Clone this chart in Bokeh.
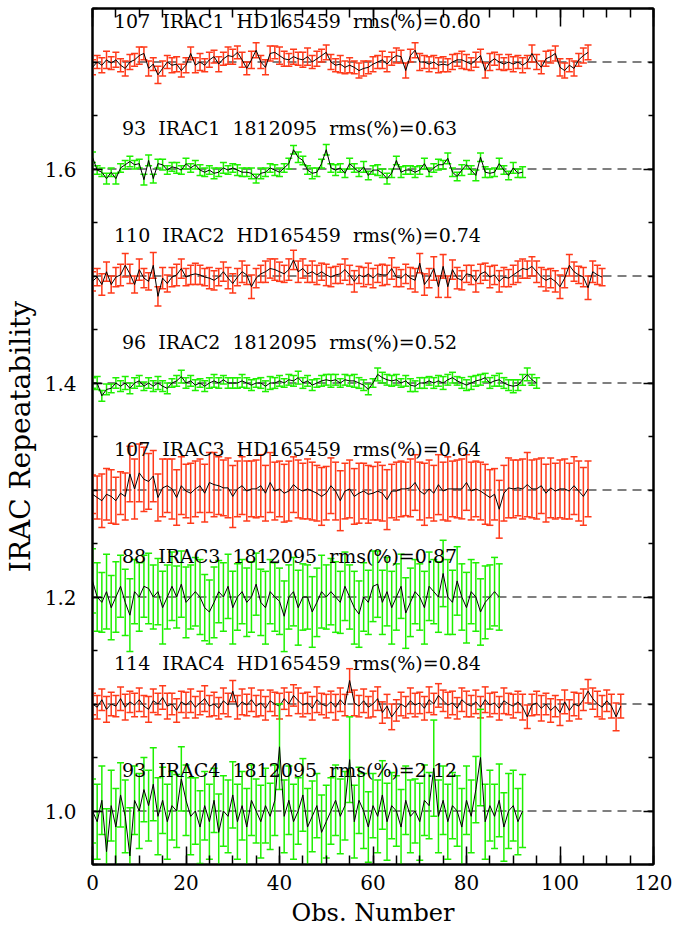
from bokeh.plotting import figure
from bokeh.models import Range1d, SingleIntervalTicker, PrintfTickFormatter, LinearAxis, CustomJSTickFormatter
from bokeh.embed import file_html
from bokeh.resources import INLINE
from bokeh.core.properties import value

levels = [1.7, 1.6, 1.5, 1.4, 1.3, 1.2, 1.1, 1.0]
counts = [107, 93, 110, 96, 107, 88, 114, 93]
bands = ["IRAC1", "IRAC1", "IRAC2", "IRAC2", "IRAC3", "IRAC3", "IRAC4", "IRAC4"]
stars = ["HD165459", "1812095", "HD165459", "1812095", "HD165459", "1812095", "HD165459", "1812095"]
rms = ["0.60", "0.63", "0.74", "0.52", "0.64", "0.87", "0.84", "2.12"]

s1 = [1.695,1.700,1.697,1.702,1.699,1.702,1.697,1.694,1.700,1.702,
      1.706,1.708,1.694,1.698,1.688,1.694,1.700,1.697,1.698,1.692,
      1.697,1.708,1.697,1.700,1.697,1.702,1.705,1.698,1.703,1.706,
      1.705,1.709,1.702,1.694,1.702,1.711,1.700,1.695,1.708,1.709,
      1.706,1.703,1.702,1.705,1.703,1.702,1.705,1.700,1.703,1.706,
      1.709,1.700,1.697,1.698,1.695,1.697,1.695,1.692,1.694,1.695,
      1.698,1.700,1.702,1.698,1.703,1.706,1.705,1.692,1.706,1.711,
      1.700,1.700,1.698,1.700,1.697,1.698,1.697,1.700,1.702,1.702,
      1.700,1.698,1.702,1.706,1.692,1.700,1.703,1.700,1.698,1.700,
      1.698,1.700,1.697,1.700,1.708,1.700,1.695,1.703,1.705,1.708,
      1.695,1.692,1.697,1.694,1.702,1.706,1.709]
e1 = [0.007,0.006,0.007,0.008,0.006,0.007,0.006,0.007,0.007,0.006,
      0.008,0.006,0.007,0.006,0.008,0.007,0.006,0.007,0.007,0.006,
      0.007,0.006,0.007,0.008,0.006,0.007,0.006,0.007,0.006,0.008,
      0.007,0.006,0.007,0.006,0.008,0.007,0.006,0.007,0.007,0.006,
      0.008,0.007,0.006,0.007,0.006,0.007,0.008,0.006,0.007,0.006,
      0.007,0.007,0.006,0.008,0.006,0.007,0.006,0.007,0.007,0.006,
      0.007,0.006,0.008,0.007,0.006,0.007,0.006,0.007,0.006,0.007,
      0.008,0.006,0.007,0.006,0.007,0.007,0.006,0.007,0.006,0.008,
      0.007,0.006,0.007,0.006,0.007,0.008,0.006,0.007,0.006,0.007,
      0.007,0.006,0.007,0.006,0.008,0.007,0.006,0.007,0.006,0.007,
      0.008,0.007,0.006,0.007,0.006,0.007,0.007]

s2 = [1.611,1.599,1.597,1.591,1.597,1.591,1.601,1.604,1.607,1.604,
      1.605,1.590,1.608,1.591,1.605,1.604,1.599,1.602,1.601,1.599,
      1.605,1.601,1.604,1.599,1.597,1.599,1.596,1.597,1.601,1.599,
      1.601,1.599,1.597,1.597,1.596,1.591,1.596,1.597,1.601,1.599,
      1.597,1.601,1.605,1.618,1.611,1.608,1.599,1.596,1.597,1.605,
      1.618,1.601,1.599,1.601,1.596,1.605,1.601,1.597,1.602,1.594,
      1.599,1.599,1.596,1.591,1.596,1.608,1.597,1.599,1.599,1.597,
      1.599,1.605,1.597,1.601,1.604,1.604,1.610,1.597,1.593,1.599,
      1.604,1.599,1.594,1.611,1.597,1.596,1.597,1.605,1.599,1.594,
      1.601,1.596,1.597]
e2 = [0.005,0.004,0.004,0.005,0.004,0.005,0.004,0.004,0.005,0.004,
      0.004,0.005,0.005,0.004,0.004,0.005,0.004,0.004,0.005,0.004,
      0.005,0.004,0.004,0.005,0.004,0.004,0.005,0.004,0.005,0.004,
      0.004,0.005,0.004,0.004,0.005,0.004,0.005,0.004,0.004,0.005,
      0.004,0.004,0.005,0.004,0.005,0.004,0.004,0.005,0.004,0.004,
      0.005,0.004,0.005,0.004,0.004,0.005,0.004,0.004,0.005,0.004,
      0.004,0.005,0.004,0.005,0.004,0.004,0.005,0.004,0.004,0.005,
      0.004,0.005,0.004,0.004,0.005,0.004,0.005,0.004,0.004,0.005,
      0.004,0.004,0.005,0.004,0.005,0.004,0.004,0.005,0.004,0.004,
      0.005,0.004,0.005]

s3 = [1.495,1.499,1.492,1.504,1.492,1.499,1.501,1.510,1.502,1.492,
      1.506,1.498,1.495,1.510,1.481,1.498,1.493,1.499,1.501,1.507,
      1.499,1.501,1.502,1.501,1.499,1.498,1.496,1.499,1.504,1.498,
      1.493,1.499,1.504,1.501,1.490,1.498,1.502,1.504,1.507,1.506,
      1.504,1.502,1.506,1.515,1.504,1.507,1.502,1.504,1.501,1.504,
      1.501,1.499,1.501,1.502,1.506,1.501,1.495,1.501,1.499,1.502,
      1.498,1.502,1.501,1.501,1.507,1.499,1.498,1.502,1.498,1.496,
      1.512,1.492,1.498,1.507,1.490,1.509,1.490,1.506,1.498,1.496,
      1.502,1.501,1.495,1.502,1.504,1.499,1.501,1.495,1.499,1.498,
      1.501,1.504,1.507,1.506,1.509,1.504,1.499,1.496,1.498,1.495,
      1.490,1.498,1.510,1.504,1.501,1.499,1.489,1.504,1.501,1.499]
e3 = [0.009,0.008,0.010,0.009,0.008,0.009,0.010,0.011,0.009,0.008,
      0.010,0.009,0.008,0.012,0.009,0.010,0.008,0.009,0.010,0.009,
      0.008,0.009,0.010,0.009,0.008,0.010,0.009,0.008,0.009,0.010,
      0.009,0.008,0.010,0.009,0.011,0.009,0.008,0.010,0.009,0.010,
      0.009,0.008,0.010,0.009,0.010,0.009,0.008,0.010,0.009,0.008,
      0.010,0.009,0.008,0.009,0.010,0.009,0.010,0.008,0.009,0.010,
      0.009,0.008,0.010,0.009,0.010,0.009,0.008,0.009,0.010,0.011,
      0.009,0.010,0.009,0.011,0.010,0.011,0.010,0.009,0.010,0.009,
      0.008,0.009,0.010,0.009,0.008,0.010,0.009,0.010,0.009,0.008,
      0.009,0.010,0.009,0.008,0.009,0.010,0.009,0.010,0.009,0.010,
      0.011,0.009,0.010,0.009,0.008,0.009,0.011,0.010,0.009,0.008]

s4 = [1.400,1.400,1.388,1.394,1.395,1.400,1.397,1.400,1.395,1.400,
      1.402,1.397,1.400,1.397,1.400,1.397,1.395,1.400,1.402,1.406,
      1.400,1.402,1.398,1.400,1.397,1.400,1.402,1.400,1.403,1.400,
      1.400,1.400,1.402,1.400,1.398,1.400,1.400,1.397,1.400,1.400,
      1.402,1.400,1.403,1.402,1.405,1.400,1.402,1.398,1.400,1.402,
      1.403,1.402,1.403,1.400,1.403,1.402,1.402,1.400,1.398,1.394,
      1.400,1.408,1.405,1.403,1.402,1.403,1.400,1.402,1.398,1.397,
      1.400,1.400,1.402,1.400,1.402,1.400,1.403,1.405,1.402,1.400,
      1.398,1.400,1.402,1.403,1.405,1.400,1.402,1.403,1.400,1.398,
      1.397,1.398,1.403,1.408,1.403,1.400]
e4 = [0.005,0.006,0.005,0.005,0.004,0.005,0.005,0.006,0.005,0.005,
      0.005,0.004,0.005,0.005,0.006,0.005,0.005,0.004,0.005,0.006,
      0.005,0.005,0.005,0.004,0.005,0.005,0.006,0.005,0.004,0.005,
      0.005,0.005,0.006,0.005,0.005,0.004,0.005,0.005,0.006,0.005,
      0.005,0.004,0.005,0.005,0.006,0.005,0.005,0.005,0.004,0.005,
      0.005,0.006,0.005,0.004,0.005,0.005,0.006,0.005,0.005,0.005,
      0.004,0.006,0.005,0.005,0.005,0.005,0.004,0.005,0.006,0.005,
      0.005,0.005,0.004,0.005,0.005,0.006,0.005,0.005,0.004,0.005,
      0.005,0.006,0.005,0.005,0.004,0.005,0.005,0.006,0.005,0.005,
      0.006,0.005,0.005,0.006,0.005,0.005]

s5 = [1.296,1.293,1.290,1.296,1.294,1.290,1.297,1.294,1.315,1.301,
      1.316,1.310,1.308,1.313,1.293,1.302,1.304,1.301,1.293,1.304,
      1.299,1.297,1.301,1.304,1.297,1.307,1.305,1.304,1.302,1.302,
      1.294,1.301,1.304,1.299,1.301,1.301,1.304,1.297,1.307,1.299,
      1.301,1.297,1.299,1.305,1.301,1.299,1.301,1.299,1.297,1.294,
      1.297,1.304,1.299,1.290,1.299,1.301,1.294,1.297,1.299,1.296,
      1.297,1.299,1.297,1.291,1.299,1.299,1.301,1.301,1.302,1.307,
      1.299,1.296,1.301,1.297,1.305,1.299,1.301,1.301,1.301,1.301,
      1.307,1.299,1.301,1.299,1.296,1.293,1.296,1.282,1.297,1.302,
      1.301,1.302,1.301,1.305,1.301,1.301,1.304,1.297,1.302,1.299,
      1.301,1.301,1.299,1.304,1.299,1.294,1.301]
e5 = [0.018,0.020,0.025,0.024,0.025,0.022,0.020,0.022,0.026,0.028,
      0.027,0.030,0.026,0.024,0.022,0.027,0.025,0.028,0.026,0.027,
      0.025,0.028,0.026,0.025,0.027,0.028,0.030,0.027,0.026,0.028,
      0.029,0.026,0.027,0.028,0.026,0.027,0.029,0.026,0.028,0.027,
      0.026,0.027,0.028,0.026,0.027,0.026,0.028,0.027,0.026,0.027,
      0.025,0.026,0.027,0.028,0.026,0.027,0.026,0.028,0.026,0.027,
      0.025,0.027,0.026,0.028,0.025,0.027,0.026,0.025,0.027,0.026,
      0.027,0.029,0.027,0.026,0.028,0.027,0.030,0.026,0.027,0.028,
      0.026,0.027,0.026,0.027,0.028,0.026,0.024,0.027,0.026,0.028,
      0.027,0.026,0.028,0.030,0.027,0.028,0.026,0.027,0.028,0.026,
      0.027,0.028,0.026,0.027,0.028,0.027,0.026]

s6 = [1.215,1.200,1.195,1.205,1.190,1.200,1.210,1.195,1.183,1.205,
      1.200,1.210,1.208,1.200,1.205,1.190,1.200,1.210,1.200,1.212,
      1.195,1.200,1.205,1.200,1.190,1.186,1.195,1.205,1.200,1.210,
      1.190,1.200,1.205,1.195,1.200,1.212,1.195,1.190,1.205,1.200,
      1.196,1.182,1.200,1.205,1.190,1.200,1.200,1.186,1.195,1.205,
      1.200,1.205,1.200,1.195,1.210,1.200,1.190,1.184,1.200,1.195,
      1.210,1.212,1.195,1.205,1.190,1.200,1.210,1.185,1.195,1.205,
      1.200,1.190,1.210,1.205,1.200,1.222,1.200,1.195,1.215,1.200,
      1.190,1.205,1.200,1.186,1.195,1.200,1.205,1.200]
e6 = [0.030,0.032,0.028,0.035,0.030,0.033,0.029,0.031,0.034,0.030,
      0.032,0.029,0.033,0.030,0.031,0.034,0.030,0.032,0.029,0.031,
      0.033,0.030,0.032,0.035,0.031,0.030,0.033,0.029,0.032,0.030,
      0.034,0.031,0.030,0.032,0.033,0.029,0.031,0.034,0.030,0.032,
      0.031,0.033,0.030,0.032,0.035,0.031,0.030,0.033,0.032,0.034,
      0.030,0.031,0.033,0.029,0.032,0.030,0.034,0.031,0.032,0.030,
      0.033,0.031,0.030,0.032,0.034,0.031,0.030,0.033,0.032,0.030,
      0.031,0.034,0.032,0.030,0.033,0.031,0.035,0.030,0.032,0.031,
      0.033,0.030,0.032,0.031,0.034,0.030,0.032,0.031]

s7 = [1.100,1.097,1.104,1.095,1.100,1.098,1.105,1.097,1.102,1.099,
      1.104,1.098,1.095,1.103,1.100,1.106,1.098,1.100,1.094,1.102,
      1.099,1.103,1.097,1.101,1.105,1.098,1.100,1.096,1.103,1.099,
      1.112,1.097,1.102,1.099,1.104,1.098,1.101,1.096,1.103,1.100,
      1.098,1.105,1.100,1.108,1.103,1.099,1.101,1.096,1.104,1.100,
      1.098,1.102,1.097,1.104,1.099,1.122,1.101,1.098,1.103,1.097,
      1.100,1.105,1.092,1.098,1.088,1.094,1.100,1.097,1.103,1.099,
      1.101,1.096,1.104,1.100,1.108,1.103,1.099,1.101,1.096,1.104,
      1.100,1.098,1.102,1.097,1.104,1.099,1.101,1.096,1.103,1.100,
      1.098,1.102,1.097,1.088,1.099,1.101,1.096,1.100,1.094,1.098,
      1.092,1.102,1.094,1.100,1.098,1.104,1.112,1.105,1.100,1.097,
      1.103,1.098,1.088,1.098]
e7 = [0.010,0.011,0.010,0.012,0.011,0.010,0.011,0.012,0.010,0.011,
      0.011,0.010,0.012,0.011,0.010,0.011,0.012,0.010,0.011,0.010,
      0.012,0.011,0.010,0.011,0.012,0.010,0.011,0.010,0.012,0.011,
      0.010,0.011,0.012,0.010,0.011,0.010,0.012,0.011,0.010,0.011,
      0.012,0.010,0.011,0.010,0.012,0.011,0.010,0.011,0.012,0.010,
      0.011,0.010,0.012,0.011,0.010,0.011,0.012,0.010,0.011,0.010,
      0.012,0.011,0.010,0.011,0.012,0.010,0.011,0.010,0.012,0.011,
      0.010,0.011,0.012,0.010,0.011,0.010,0.012,0.011,0.010,0.011,
      0.012,0.010,0.011,0.010,0.012,0.011,0.010,0.011,0.012,0.010,
      0.011,0.010,0.012,0.011,0.010,0.011,0.012,0.010,0.011,0.010,
      0.012,0.011,0.010,0.011,0.012,0.010,0.011,0.010,0.012,0.011,
      0.010,0.011,0.013,0.011]

s8 = [1.000,0.990,1.010,0.962,1.005,0.985,1.015,0.995,0.958,1.010,
      1.000,1.020,1.005,1.025,0.995,1.010,0.990,1.005,1.000,1.030,
      1.010,0.995,1.000,0.985,1.005,0.990,1.010,0.980,1.000,0.995,
      1.015,0.990,1.005,0.985,1.010,1.000,0.990,1.005,0.995,1.010,
      1.060,0.995,1.010,0.990,1.000,1.015,0.985,0.995,1.005,0.980,
      0.990,1.000,1.010,0.995,1.005,1.048,0.990,1.010,1.000,0.985,
      1.005,0.995,1.015,0.990,1.005,1.000,0.985,1.010,0.995,1.000,
      0.990,1.010,1.005,1.040,0.995,1.010,0.990,1.005,1.000,0.985,
      1.010,0.995,1.020,1.050,0.990,1.005,0.995,1.010,0.985,1.000,
      1.005,0.990,1.000]
e8 = [0.030,0.035,0.032,0.040,0.033,0.036,0.030,0.034,0.045,0.032,
      0.035,0.030,0.033,0.034,0.036,0.031,0.035,0.032,0.034,0.030,
      0.033,0.036,0.031,0.034,0.032,0.035,0.030,0.036,0.033,0.034,
      0.031,0.035,0.032,0.036,0.033,0.030,0.034,0.035,0.031,0.033,
      0.040,0.034,0.032,0.035,0.031,0.034,0.036,0.033,0.030,0.035,
      0.034,0.031,0.033,0.035,0.032,0.040,0.034,0.031,0.035,0.033,
      0.030,0.034,0.032,0.036,0.031,0.033,0.035,0.032,0.034,0.030,
      0.036,0.033,0.031,0.045,0.034,0.032,0.035,0.031,0.033,0.036,
      0.032,0.034,0.031,0.045,0.035,0.033,0.030,0.034,0.032,0.035,
      0.033,0.031,0.034]

series = [s1, s2, s3, s4, s5, s6, s7, s8]
errors = [e1, e2, e3, e4, e5, e6, e7, e8]

RED = "#ff3a1a"
GREEN = "#1ff000"
SERIF = "DejaVu Serif"

p = figure(width=675, height=929, x_range=Range1d(0, 120), y_range=Range1d(0.95, 1.75),
           output_backend="svg", toolbar_location=None,
           min_border_left=91, min_border_right=22, min_border_top=8, min_border_bottom=63)
p.xgrid.visible = False
p.ygrid.visible = False
p.background_fill_color = "white"
p.border_fill_color = "white"
p.outline_line_color = "black"
p.outline_line_width = 2

# reference dashed levels
p.segment(x0=[0] * len(levels), x1=[120] * len(levels), y0=levels, y1=levels,
          line_color="black", line_width=1.2, line_dash="9 6")

for i, (vals, errs) in enumerate(zip(series, errors)):
    col = RED if i % 2 == 0 else GREEN
    xs = list(range(len(vals)))
    up = [v + e for v, e in zip(vals, errs)]
    lo = [v - e for v, e in zip(vals, errs)]
    p.segment(x0=xs, x1=xs, y0=lo, y1=up, line_color=col, line_width=1.5)
    p.scatter(x=xs + xs, y=up + lo, marker="dash", size=7, line_color=col, line_width=1.5)
    p.line(x=xs, y=vals, line_color="black", line_width=1)

NB = "\u00a0"
texts = ["%d%s %s%s %s%s rms(%%)=%s" % (c, NB, b, NB, s, NB, r) for c, b, s, r in zip(counts, bands, stars, rms)]
tx = [4.6 if c >= 100 else 6.3 for c in counts]
ty = [lv + 0.038 for lv in levels]
p.text(x=tx, y=ty, text=texts, text_font=value(SERIF), text_font_size="19px",
       text_baseline="alphabetic", text_align="left", text_color="black")

def style_axis(ax, major, minor, show):
    ax.axis_line_color = "black"
    ax.axis_line_width = 2
    ax.major_tick_in = major
    ax.major_tick_out = 0
    ax.minor_tick_in = minor
    ax.minor_tick_out = 0
    ax.major_tick_line_color = "black"
    ax.minor_tick_line_color = "black"
    ax.major_tick_line_width = 1.5
    ax.minor_tick_line_width = 1.5
    if show:
        ax.major_label_text_font = SERIF
        ax.major_label_text_font_size = "20px"
        ax.major_label_text_color = "black"
        ax.axis_label_text_font = SERIF
        ax.axis_label_text_font_style = "normal"
        ax.axis_label_text_color = "black"
    else:
        ax.formatter = CustomJSTickFormatter(code="return ''")
        ax.major_label_standoff = 0

p.xaxis.ticker = SingleIntervalTicker(interval=20, num_minor_ticks=4)
p.yaxis.ticker = SingleIntervalTicker(interval=0.2, num_minor_ticks=4)
p.yaxis.formatter = PrintfTickFormatter(format="%.1f")
p.xaxis.axis_label = "Obs. Number"
p.yaxis.axis_label = "IRAC Repeatability"
style_axis(p.xaxis[0], 18, 9, True)
style_axis(p.yaxis[0], 10, 5, True)
p.xaxis.axis_label_text_font_size = "24px"
p.yaxis.axis_label_text_font_size = "28px"
p.xaxis.major_label_standoff = 10
p.xaxis.axis_label_standoff = 6
p.yaxis.major_label_standoff = 16
p.yaxis.axis_label_standoff = 5

top = LinearAxis(ticker=SingleIntervalTicker(interval=20, num_minor_ticks=4))
style_axis(top, 18, 9, False)
p.add_layout(top, "above")
right = LinearAxis(ticker=SingleIntervalTicker(interval=0.2, num_minor_ticks=4))
style_axis(right, 10, 5, False)
p.add_layout(right, "right")

open("out.html", "w").write(file_html(p, INLINE))
